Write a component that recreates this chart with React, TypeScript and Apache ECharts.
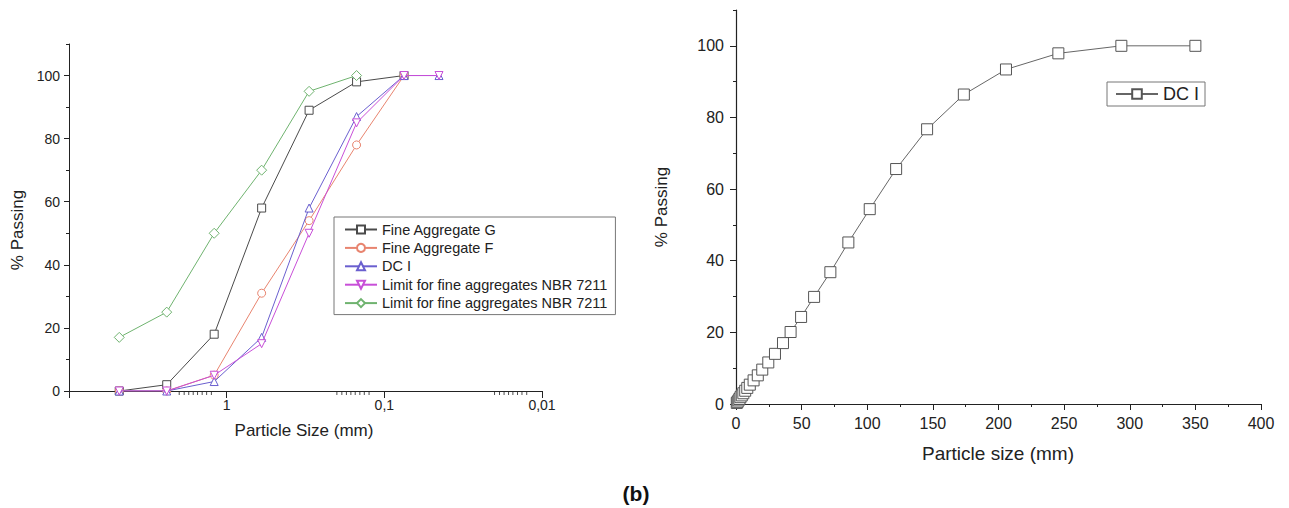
import React, { useEffect, useRef } from "react";
import * as echarts from "echarts";

// ---- Left chart (log scale, reversed) ----
const SIEVES = [4.8, 2.4, 1.2, 0.6, 0.3, 0.15, 0.075, 0.045];
const FINE_G = [0, 2, 18, 58, 89, 98, 100, null];
const FINE_F = [0, 0, 5, 31, 54, 78, 100, null];
const DC_I_SIEVE = [0, 0, 3, 17, 58, 87, 100, 100];
const LIMIT_LOWER = [0, 0, 5, 15, 50, 85, 100, 100];
const LIMIT_UPPER = [17, 25, 50, 70, 95, 100, null, null];

const LEFT_NAMES = [
  "Fine Aggregate G",
  "Fine Aggregate F",
  "DC I",
  "Limit for fine aggregates NBR 7211",
  "Limit for fine aggregates NBR 7211#2",
];

// minor tick positions of the log axis (Origin style)
const LOG_MINOR_FACTORS = [1.25, 1.34, 1.43, 1.53, 1.63, 1.74, 1.86, 2.0];
const LOG_DECADES = [1, 0.1, 0.01];

// ---- Right chart ----
const DC_SIZE = [0.6, 1.2, 1.9, 2.6, 3.4, 4.4, 5.6, 7.0, 8.6, 10.5, 13.4, 16.6, 20.0, 24.6, 29.7, 35.8, 41.6, 49.6, 59.5, 71.9, 85.6, 101.9, 122.0, 145.6, 173.6, 205.7, 245.6, 293.6, 350.0];
const DC_PASS = [0.3, 0.6, 1.0, 1.4, 1.9, 2.4, 3.0, 3.7, 4.5, 5.4, 6.6, 8.0, 9.6, 11.6, 14.0, 17.0, 20.1, 24.3, 29.9, 36.8, 45.1, 54.4, 65.6, 76.7, 86.4, 93.4, 97.9, 100, 100];

const Y_MAJOR = [0, 20, 40, 60, 80, 100];
const Y_MINOR = [10, 30, 50, 70, 90, 110];

const FONT = "'Liberation Sans', Arial, sans-serif";
const TXT = "#222";
const AX = "#222";

function pair(xs: number[], ys: (number | null)[]) {
  const out: number[][] = [];
  xs.forEach((x, i) => {
    const y = ys[i];
    if (y !== null && y !== undefined) out.push([x, y]);
  });
  return out;
}

export default function App() {
  const ref = useRef<HTMLDivElement>(null);
  useEffect(() => {
    document.body.style.margin = "0";
    const chart = echarts.init(ref.current!, undefined, { renderer: "svg" });
    const logMinor: number[] = [];
    LOG_DECADES.forEach((d) => LOG_MINOR_FACTORS.forEach((f) => logMinor.push(+(d * f).toPrecision(4))));

    const leftColors = ["#4a4a4a", "#e8846f", "#6a5fcf", "#c84fd8", "#6fb36f"];
    const leftSymbols = ["rect", "circle", "triangle", "triangle", "diamond"];
    const leftData = [FINE_G, FINE_F, DC_I_SIEVE, LIMIT_LOWER, LIMIT_UPPER];

    const leftSeries = LEFT_NAMES.map((name, i) => ({
      name,
      type: "line",
      xAxisIndex: 0,
      yAxisIndex: 0,
      data: pair(SIEVES, leftData[i]),
      symbol: leftSymbols[i],
      symbolRotate: i === 3 ? 180 : 0,
      symbolSize: i === 4 ? 10 : 8,
      showAllSymbol: true,
      lineStyle: { color: leftColors[i], width: 1 },
      itemStyle: { color: "#fff", borderColor: leftColors[i], borderWidth: 1 },
      z: 3 + i,
    }));

    const minorY = (gridIndex: number) => ({
      type: "value",
      gridIndex,
      position: "left",
      offset: 0,
      min: 0,
      max: 110,
      interval: 10,
      axisLine: { show: false },
      axisTick: { show: true, length: 3, customValues: Y_MINOR, lineStyle: { color: AX } },
      axisLabel: { show: false },
      splitLine: { show: false },
    });

    const option: any = {
      animation: false,
      textStyle: { fontFamily: FONT, color: TXT },
      grid: [
        { left: 69, top: 44, width: 473, height: 347 },
        { left: 736, top: 10, width: 525, height: 394 },
      ],
      xAxis: [
        {
          type: "log",
          gridIndex: 0,
          logBase: 10,
          min: 0.01,
          max: 10,
          inverse: true,
          axisLine: { lineStyle: { color: AX, width: 1 } },
          axisTick: { show: true, length: 7, lineStyle: { color: AX } },
          axisLabel: {
            fontSize: 14,
            color: TXT,
            margin: 7,
            formatter: (v: number) => (v >= 9.99 ? "" : String(+v.toPrecision(2)).replace(".", ",")),
          },
          splitLine: { show: false },
        },
        {
          type: "value",
          gridIndex: 1,
          min: 0,
          max: 400,
          interval: 50,
          axisLine: { lineStyle: { color: AX, width: 1.2 } },
          axisTick: { show: true, length: 6, lineStyle: { color: AX } },
          minorTick: { show: true, splitNumber: 2, length: 3, lineStyle: { color: AX } },
          axisLabel: { fontSize: 16, color: TXT, margin: 11 },
          splitLine: { show: false },
          minorSplitLine: { show: false },
        },
      ],
      yAxis: [
        {
          type: "value",
          gridIndex: 0,
          position: "left",
          min: 0,
          max: 110,
          interval: 10,
          axisLine: { show: true, lineStyle: { color: AX, width: 1 } },
          axisTick: { show: true, length: 5, customValues: Y_MAJOR, lineStyle: { color: AX } },
          axisLabel: { fontSize: 14, color: TXT, margin: 9, customValues: Y_MAJOR },
          splitLine: { show: false },
        },
        minorY(0),
        {
          type: "value",
          gridIndex: 1,
          position: "left",
          min: 0,
          max: 110,
          interval: 10,
          axisLine: { show: true, lineStyle: { color: AX, width: 1.2 } },
          axisTick: { show: true, length: 6, customValues: Y_MAJOR, lineStyle: { color: AX } },
          axisLabel: { fontSize: 16, color: TXT, margin: 12, customValues: Y_MAJOR },
          splitLine: { show: false },
        },
        minorY(1),
      ],
      legend: [
        {
          data: LEFT_NAMES,
          orient: "vertical",
          left: 334,
          top: 217,
          padding: [5, 8, 4, 10],
          itemWidth: 32,
          itemHeight: 10,
          itemGap: 3.4,
          borderColor: "#777",
          borderWidth: 1,
          textStyle: { fontSize: 14.5, color: TXT, lineHeight: 14, fontFamily: FONT },
          formatter: (n: string) => n.replace("#2", ""),
          selectedMode: false,
        },
        {
          data: ["DC I#b"],
          orient: "vertical",
          left: 1107,
          top: 82,
          padding: [3, 6, 3, 8],
          itemWidth: 42,
          itemHeight: 12,
          borderColor: "#777",
          borderWidth: 1,
          textStyle: { fontSize: 18, color: TXT, lineHeight: 18, fontFamily: FONT },
          formatter: (n: string) => n.replace("#b", ""),
          selectedMode: false,
        },
      ],
      series: [
        ...leftSeries,
        {
          name: "log minor ticks",
          type: "scatter",
          xAxisIndex: 0,
          yAxisIndex: 0,
          silent: true,
          clip: false,
          symbol: "rect",
          symbolSize: [1, 4],
          symbolOffset: [0, 2],
          itemStyle: { color: AX },
          data: logMinor.map((v) => [v, 0]),
          z: 20,
        },
        {
          name: "DC I#b",
          type: "line",
          xAxisIndex: 1,
          yAxisIndex: 2,
          data: pair(DC_SIZE, DC_PASS),
          symbol: "rect",
          symbolSize: 11,
          showAllSymbol: true,
          lineStyle: { color: "#666", width: 1 },
          itemStyle: { color: "#fff", borderColor: "#555", borderWidth: 1 },
        },
      ],
      graphic: [
        { type: "text", x: 304, y: 430, style: { text: "Particle Size (mm)", font: `17px ${FONT}`, fill: TXT, align: "center", verticalAlign: "middle" } },
        { type: "text", x: 17, y: 230, rotation: Math.PI / 2, style: { text: "% Passing", font: `17px ${FONT}`, fill: TXT, align: "center", verticalAlign: "middle" } },
        { type: "text", x: 998, y: 453, style: { text: "Particle size (mm)", font: `19px ${FONT}`, fill: TXT, align: "center", verticalAlign: "middle" } },
        { type: "text", x: 661, y: 207, rotation: Math.PI / 2, style: { text: "% Passing", font: `17px ${FONT}`, fill: TXT, align: "center", verticalAlign: "middle" } },
        { type: "text", x: 636, y: 493, style: { text: "(b)", font: `bold 21px ${FONT}`, fill: "#111", align: "center", verticalAlign: "middle" } },
      ],
    };
    chart.setOption(option);
    return () => chart.dispose();
  }, []);
  return <div ref={ref} style={{ width: 1289, height: 508 }} />;
}
